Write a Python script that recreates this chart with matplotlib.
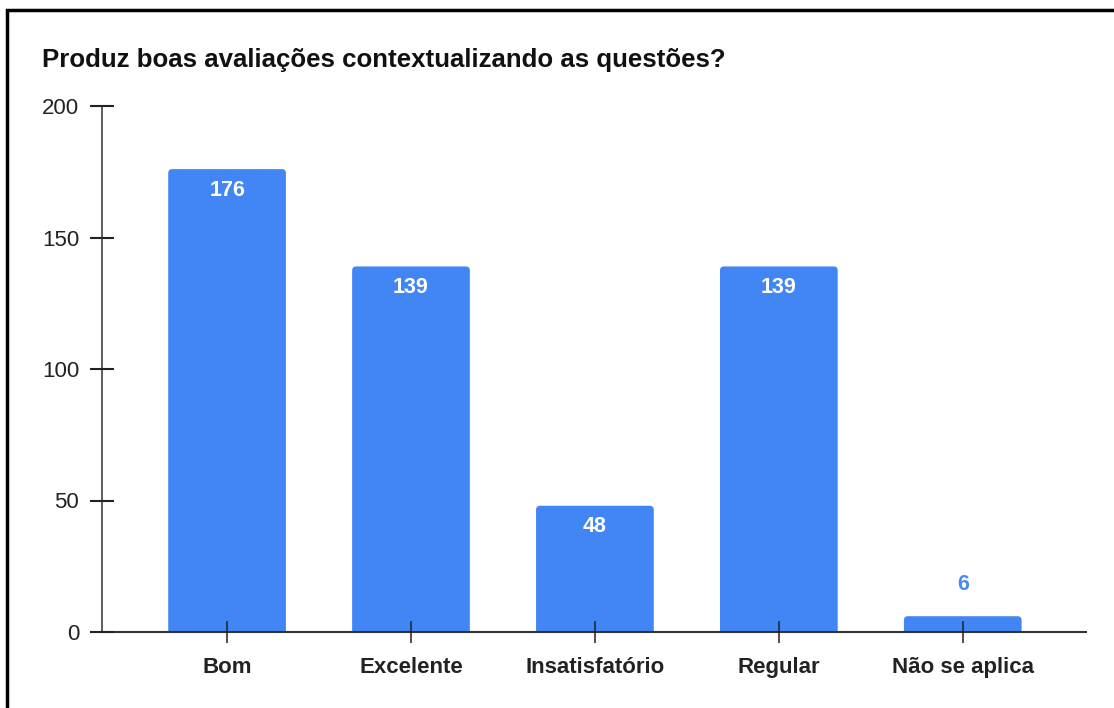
import matplotlib
matplotlib.use("Agg")
import matplotlib.pyplot as plt
from matplotlib.patches import Rectangle, FancyBboxPatch

plt.rcParams['font.family'] = ['Liberation Sans', 'DejaVu Sans']

title = "Produz boas avaliações contextualizando as questões?"
categories = ["Bom", "Excelente", "Insatisfatório", "Regular", "Não se aplica"]
values = [176, 139, 48, 139, 6]
yticks = [0, 50, 100, 150, 200]

bar_color = "#4285F4"
text_color = "#222222"

W, H = 1114, 708
fig = plt.figure(figsize=(W/100, H/100), dpi=100)
ax_l, ax_r, ax_b, ax_t = 102, 1086, 632, 106
ax = fig.add_axes([ax_l/W, (H-ax_b)/H, (ax_r-ax_l)/W, (ax_b-ax_t)/H])

x = list(range(len(categories)))
xlim = (-0.68, 4.67)
ylim = (0, 200)
ax.set_xlim(*xlim)
ax.set_ylim(*ylim)
ax.set_axisbelow(False)

bars = ax.bar(x, values, width=0.64, color=bar_color, zorder=2)
# replace with rounded-top versions
px_per_x = (ax_r-ax_l) / (xlim[1]-xlim[0])
px_per_y = (ax_b-ax_t) / (ylim[1]-ylim[0])
r_px = 4
for b in bars:
    bx, by, bw, bh = b.get_x(), b.get_y(), b.get_width(), b.get_height()
    ext = 2 * r_px / px_per_y
    p = FancyBboxPatch((bx, by - ext), bw, bh + ext,
                       boxstyle=f"round,pad=0,rounding_size={r_px/px_per_x}",
                       mutation_aspect=px_per_x/px_per_y,
                       facecolor=bar_color, edgecolor='none', zorder=2)
    ax.add_patch(p)
    b.set_visible(False)

ax.set_yticks(yticks)
ax.set_yticklabels([str(v) for v in yticks], fontsize=16, color=text_color)
ax.set_xticks(x)
ax.set_xticklabels(categories, fontsize=16, fontweight='bold', color=text_color)

for s in ['top', 'right']:
    ax.spines[s].set_visible(False)
ax.spines['left'].set_color('#333333')
ax.spines['bottom'].set_color('#333333')
ax.spines['left'].set_linewidth(1.1)
ax.spines['bottom'].set_linewidth(1.5)
ax.tick_params(axis='y', direction='inout', length=17, width=1.5, color='#222222', pad=8)
ax.tick_params(axis='x', direction='inout', length=16.5, width=1.1, color='#222222', pad=10)

for xi, v in zip(x, values):
    if v > 20:
        ax.annotate(str(v), (xi, v), xytext=(0, -19.2), textcoords='offset points',
                    ha='center', va='baseline', color='white', fontsize=15.5, fontweight='bold', zorder=5)
    else:
        ax.annotate(str(v), (xi, v), xytext=(0, 18.7), textcoords='offset points',
                    ha='center', va='baseline', color='#4A89F3', fontsize=15.5, fontweight='bold', zorder=5)

fig.text(42/W, 1 - 60/H, title, fontsize=18.6, fontweight='bold', color='#111111',
         ha='left', va='center')

# outer frame (top and left edges visible)
fig.patches.append(Rectangle((7/W, -0.05), 1.2, 1 - 10/H + 0.05, transform=fig.transFigure,
                             fill=False, edgecolor='black', linewidth=2.5))

fig.savefig("out.png", dpi=100)
